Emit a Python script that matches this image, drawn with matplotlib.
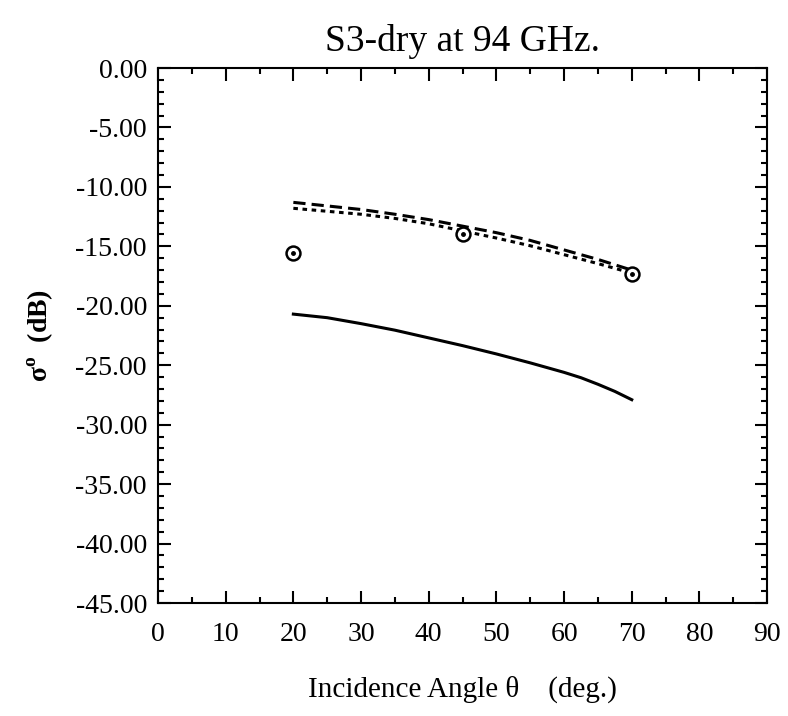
import matplotlib
matplotlib.use("Agg")
import matplotlib.pyplot as plt
from matplotlib.ticker import MultipleLocator, FormatStrFormatter

plt.rcParams['font.family'] = ['Liberation Serif', 'DejaVu Serif']

# long-dash model curve
ang_a = [20, 25, 30, 35, 40, 45, 50, 55, 60, 65, 70]
sig_a = [-11.3, -11.6, -11.9, -12.3, -12.75, -13.3, -13.85, -14.5, -15.3, -16.1, -17.0]
# short-dash model curve
ang_b = [20, 25, 30, 35, 40, 45, 50, 55, 60, 65, 70]
sig_b = [-11.8, -12.05, -12.3, -12.65, -13.1, -13.7, -14.3, -14.95, -15.7, -16.45, -17.25]
# solid model curve
ang_c = [20, 25, 30, 35, 40, 45, 50, 55, 60, 62.5, 65, 67.5, 70]
sig_c = [-20.7, -21.0, -21.5, -22.05, -22.7, -23.35, -24.05, -24.8, -25.6, -26.05, -26.6, -27.2, -27.9]
# measured points
ang_m = [20, 45, 70]
sig_m = [-15.6, -14.0, -17.3]

fig = plt.figure(figsize=(7.88, 7.16), dpi=100)
ax = fig.add_axes([0.2005, 0.1578, 0.773, 0.7472])

ax.plot(ang_a, sig_a, color='black', lw=2.2, linestyle=(0, (4, 2)))
ax.plot(ang_b, sig_b, color='black', lw=2.2, linestyle=(0, (1.5, 1.5)))
ax.plot(ang_c, sig_c, color='black', lw=2.2)
ax.plot(ang_m, sig_m, 'o', ms=10, mfc='white', mec='black', mew=1.8)
ax.plot(ang_m, sig_m, 'o', ms=2.5, color='black')

ax.set_xlim(0, 90)
ax.set_ylim(-45, 0)
ax.xaxis.set_major_locator(MultipleLocator(10))
ax.xaxis.set_minor_locator(MultipleLocator(5))
ax.yaxis.set_major_locator(MultipleLocator(5))
ax.yaxis.set_minor_locator(MultipleLocator(1))
ax.yaxis.set_major_formatter(FormatStrFormatter('%.2f'))
ax.tick_params(which='both', direction='in', top=True, right=True, labelsize=20, width=1.5)
ax.tick_params(which='major', length=9)
ax.tick_params(axis='x', which='major', pad=14)
ax.tick_params(axis='y', which='major', pad=8)
ax.tick_params(which='minor', length=4)
for s in ax.spines.values():
    s.set_linewidth(1.5)

ax.set_title("S3-dry at 94 GHz.", fontsize=27, pad=12)
ax.set_xlabel("Incidence Angle \u03b8    (deg.)", fontsize=21, labelpad=20)
ax.set_ylabel("\u03c3$^\\mathregular{o}$  (dB)", fontsize=20, fontweight='bold', labelpad=14)

fig.savefig("out.png", dpi=100)
